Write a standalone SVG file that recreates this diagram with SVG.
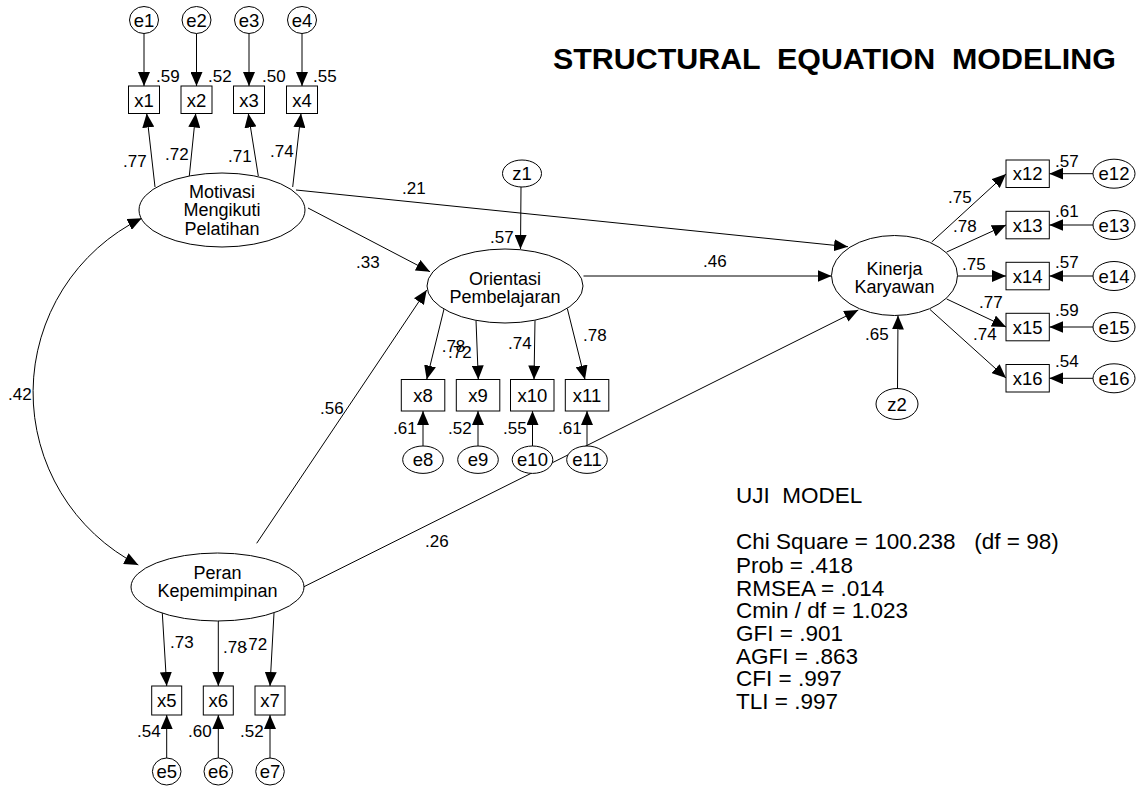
<svg xmlns="http://www.w3.org/2000/svg" width="1143" height="786" viewBox="0 0 1143 786">
<defs>
<marker id="ah" markerUnits="userSpaceOnUse" markerWidth="14" markerHeight="12" refX="14" refY="6" orient="auto-start-reverse"><path d="M0,0 L14,6 L0,12 z" fill="#000"/></marker>
<style>
text{font-family:"Liberation Sans",Arial,sans-serif;fill:#000}
.n{font-size:18.5px;text-anchor:middle}
.m{font-size:18px;text-anchor:middle}
.c{font-size:17px}
.s{font-size:22.5px}
.t{font-size:30.4px;font-weight:bold}
rect,ellipse{fill:#fff;stroke:#000;stroke-width:1}
.cn line,.cn path{stroke:#000;stroke-width:1;fill:none;marker-end:url(#ah)}
</style>
</defs>
<rect x="0" y="0" width="1143" height="786" style="stroke:none"/>
<text class="t" x="553" y="69" xml:space="preserve">STRUCTURAL  EQUATION  MODELING</text>

<g class="cn" id="connectors">
<line x1="144" y1="33.5" x2="144" y2="86"/>
<line x1="196.5" y1="33.5" x2="196.5" y2="86"/>
<line x1="249" y1="33.5" x2="249" y2="86"/>
<line x1="302" y1="33.5" x2="302" y2="86"/>
<line x1="155" y1="187" x2="146.7" y2="113.5"/>
<line x1="189.3" y1="176" x2="195.7" y2="113.5"/>
<line x1="258.3" y1="176" x2="248.3" y2="113.5"/>
<line x1="292.7" y1="187" x2="301" y2="113.5"/>
<line x1="521" y1="187" x2="520.5" y2="249"/>
<line x1="444" y1="309" x2="426.7" y2="379.5"/>
<line x1="476" y1="320.3" x2="478.3" y2="379.5"/>
<line x1="535" y1="320.3" x2="534" y2="379.5"/>
<line x1="567.3" y1="308.5" x2="585" y2="379.5"/>
<line x1="423" y1="446" x2="423" y2="411"/>
<line x1="478" y1="446" x2="478" y2="411"/>
<line x1="532.5" y1="446" x2="532.5" y2="411"/>
<line x1="587" y1="446" x2="587" y2="411"/>
<line x1="897.5" y1="388.5" x2="898" y2="315.5"/>
<line x1="931.7" y1="242" x2="1006" y2="174"/>
<line x1="946.7" y1="252" x2="1006" y2="225"/>
<line x1="957.5" y1="276" x2="1006" y2="276"/>
<line x1="946.7" y1="299" x2="1006" y2="327"/>
<line x1="930" y1="309.5" x2="1006" y2="378"/>
<line x1="1093" y1="173.7" x2="1049.3" y2="173.7"/>
<line x1="1093" y1="225" x2="1049.3" y2="225"/>
<line x1="1093" y1="276" x2="1049.3" y2="276"/>
<line x1="1093" y1="327" x2="1049.3" y2="327"/>
<line x1="1093" y1="378.3" x2="1049.3" y2="378.3"/>
<line x1="162.3" y1="613" x2="166.7" y2="686"/>
<line x1="218.3" y1="621" x2="218.3" y2="686"/>
<line x1="274" y1="613" x2="270" y2="686"/>
<line x1="166.7" y1="758" x2="166.7" y2="715"/>
<line x1="218.3" y1="758" x2="218.3" y2="715"/>
<line x1="270" y1="758" x2="270" y2="715"/>
<line x1="296" y1="190" x2="848" y2="246.7"/>
<line x1="308" y1="208" x2="430" y2="271.7"/>
<line x1="256.7" y1="543.3" x2="426.7" y2="290"/>
<line x1="304" y1="586.7" x2="858.3" y2="310"/>
<line x1="583.5" y1="276" x2="831.5" y2="276"/>
<path d="M141.7,218.3 A194,194 0 0 0 138.3,565" style="marker-start:url(#ah)"/>
</g>

<g id="labels" class="c">
<text x="156" y="82">.59</text><text x="208" y="82">.52</text><text x="262" y="82">.50</text><text x="313" y="82">.55</text>
<text x="123" y="167">.77</text><text x="165" y="160">.72</text><text x="228" y="162">.71</text><text x="270" y="157">.74</text>
<text x="402" y="194">.21</text><text x="356" y="268">.33</text><text x="490" y="243">.57</text>
<text x="703" y="267">.46</text><text x="320" y="414">.56</text><text x="425" y="547">.26</text><text x="8" y="400">.42</text>
<text x="441.7" y="352">.78</text><text x="448" y="358">.72</text><text x="508" y="349">.74</text><text x="583" y="341">.78</text>
<text x="393" y="434">.61</text><text x="448" y="434">.52</text><text x="503" y="434">.55</text><text x="558" y="434">.61</text>
<text x="948" y="203">.75</text><text x="953" y="232">.78</text><text x="962" y="270">.75</text><text x="979" y="308">.77</text><text x="973" y="340">.74</text>
<text x="1055" y="167">.57</text><text x="1055" y="217">.61</text><text x="1055" y="268">.57</text><text x="1055" y="316">.59</text><text x="1055" y="367">.54</text>
<text x="865" y="340">.65</text>
<text x="170" y="648">.73</text><text x="223" y="653">.78</text><text x="243.5" y="650">.72</text>
<text x="137" y="737">.54</text><text x="188" y="737">.60</text><text x="240" y="737">.52</text>
</g>

<g id="e1"><ellipse cx="144" cy="20" rx="14.5" ry="13.5"/><text class="n" x="144" y="26.5">e1</text></g>
<g id="e2"><ellipse cx="196.5" cy="20" rx="14.5" ry="13.5"/><text class="n" x="196.5" y="26.5">e2</text></g>
<g id="e3"><ellipse cx="249" cy="20" rx="14.5" ry="13.5"/><text class="n" x="249" y="26.5">e3</text></g>
<g id="e4"><ellipse cx="302" cy="20" rx="14.5" ry="13.5"/><text class="n" x="302" y="26.5">e4</text></g>
<g id="x1"><rect x="128.5" y="86" width="31" height="27.5"/><text class="n" x="144" y="106.5">x1</text></g>
<g id="x2"><rect x="181" y="86" width="31" height="27.5"/><text class="n" x="196.5" y="106.5">x2</text></g>
<g id="x3"><rect x="233.5" y="86" width="31" height="27.5"/><text class="n" x="249" y="106.5">x3</text></g>
<g id="x4"><rect x="286.5" y="86" width="31" height="27.5"/><text class="n" x="302" y="106.5">x4</text></g>

<g id="motivasi"><ellipse cx="222" cy="210" rx="83" ry="37"/>
<text class="m" x="222" y="197.5">Motivasi</text><text class="m" x="222" y="216">Mengikuti</text><text class="m" x="222" y="234.5">Pelatihan</text></g>

<g id="z1"><ellipse cx="522" cy="173.5" rx="19.5" ry="13.5"/><text class="n" x="522" y="180">z1</text></g>
<g id="orientasi"><ellipse cx="505" cy="286" rx="78" ry="37"/>
<text class="m" x="505" y="284.5">Orientasi</text><text class="m" x="505" y="303">Pembelajaran</text></g>

<g id="x8"><rect x="401.3" y="379.5" width="43.5" height="31.5"/><text class="n" x="423" y="401.5">x8</text></g>
<g id="x9"><rect x="456.3" y="379.5" width="43.5" height="31.5"/><text class="n" x="478" y="401.5">x9</text></g>
<g id="x10"><rect x="510.5" y="379.5" width="43.5" height="31.5"/><text class="n" x="532.3" y="401.5">x10</text></g>
<g id="x11"><rect x="565.3" y="379.5" width="43.5" height="31.5"/><text class="n" x="587" y="401.5">x11</text></g>
<g id="e8"><ellipse cx="423" cy="459.7" rx="20.3" ry="13.7"/><text class="n" x="423" y="466">e8</text></g>
<g id="e9"><ellipse cx="478" cy="459.7" rx="20.3" ry="13.7"/><text class="n" x="478" y="466">e9</text></g>
<g id="e10"><ellipse cx="532.5" cy="459.7" rx="20.3" ry="13.7"/><text class="n" x="532.5" y="466">e10</text></g>
<g id="e11"><ellipse cx="587" cy="459.7" rx="20.3" ry="13.7"/><text class="n" x="587" y="466">e11</text></g>

<g id="kinerja"><ellipse cx="894.5" cy="275.5" rx="63" ry="40"/>
<text class="m" x="894.5" y="275">Kinerja</text><text class="m" x="894.5" y="293">Karyawan</text></g>
<g id="z2"><ellipse cx="897" cy="404" rx="21" ry="15.5"/><text class="n" x="897" y="410.5">z2</text></g>

<g id="x12"><rect x="1006" y="160" width="43.3" height="27.5"/><text class="n" x="1027.6" y="180.3">x12</text></g>
<g id="x13"><rect x="1006" y="211.3" width="43.3" height="27.5"/><text class="n" x="1027.6" y="231.6">x13</text></g>
<g id="x14"><rect x="1006" y="262.3" width="43.3" height="27.5"/><text class="n" x="1027.6" y="282.6">x14</text></g>
<g id="x15"><rect x="1006" y="313.3" width="43.3" height="27.5"/><text class="n" x="1027.6" y="333.6">x15</text></g>
<g id="x16"><rect x="1006" y="364.5" width="43.3" height="27.5"/><text class="n" x="1027.6" y="384.8">x16</text></g>
<g id="e12"><ellipse cx="1114" cy="173.7" rx="21" ry="14.5"/><text class="n" x="1114" y="180.3">e12</text></g>
<g id="e13"><ellipse cx="1114" cy="225" rx="21" ry="14.5"/><text class="n" x="1114" y="231.6">e13</text></g>
<g id="e14"><ellipse cx="1114" cy="276" rx="21" ry="14.5"/><text class="n" x="1114" y="282.6">e14</text></g>
<g id="e15"><ellipse cx="1114" cy="327" rx="21" ry="14.5"/><text class="n" x="1114" y="333.6">e15</text></g>
<g id="e16"><ellipse cx="1114" cy="378.3" rx="21" ry="14.5"/><text class="n" x="1114" y="384.8">e16</text></g>

<g id="peran"><ellipse cx="217.5" cy="587" rx="86.5" ry="34"/>
<text class="m" x="217.5" y="579.3">Peran</text><text class="m" x="217.5" y="597.3">Kepemimpinan</text></g>
<g id="x5"><rect x="151.7" y="686" width="30" height="29"/><text class="n" x="166.7" y="707">x5</text></g>
<g id="x6"><rect x="203.3" y="686" width="30" height="29"/><text class="n" x="218.3" y="707">x6</text></g>
<g id="x7"><rect x="255" y="686" width="30" height="29"/><text class="n" x="270" y="707">x7</text></g>
<g id="e5"><ellipse cx="166.7" cy="771.5" rx="14.3" ry="13.5"/><text class="n" x="166.7" y="778">e5</text></g>
<g id="e6"><ellipse cx="218.3" cy="771.5" rx="14.3" ry="13.5"/><text class="n" x="218.3" y="778">e6</text></g>
<g id="e7"><ellipse cx="270" cy="771.5" rx="14.3" ry="13.5"/><text class="n" x="270" y="778">e7</text></g>

<g id="stats" class="s">
<text x="736" y="503" xml:space="preserve">UJI  MODEL</text>
<text x="736" y="549.3" xml:space="preserve">Chi Square = 100.238   (df = 98)</text>
<text x="736" y="572.5">Prob = .418</text>
<text x="736" y="595.5">RMSEA = .014</text>
<text x="736" y="618.3">Cmin / df = 1.023</text>
<text x="736" y="641">GFI = .901</text>
<text x="736" y="663.7">AGFI = .863</text>
<text x="736" y="686.3">CFI = .997</text>
<text x="736" y="709">TLI = .997</text>
</g>
</svg>
